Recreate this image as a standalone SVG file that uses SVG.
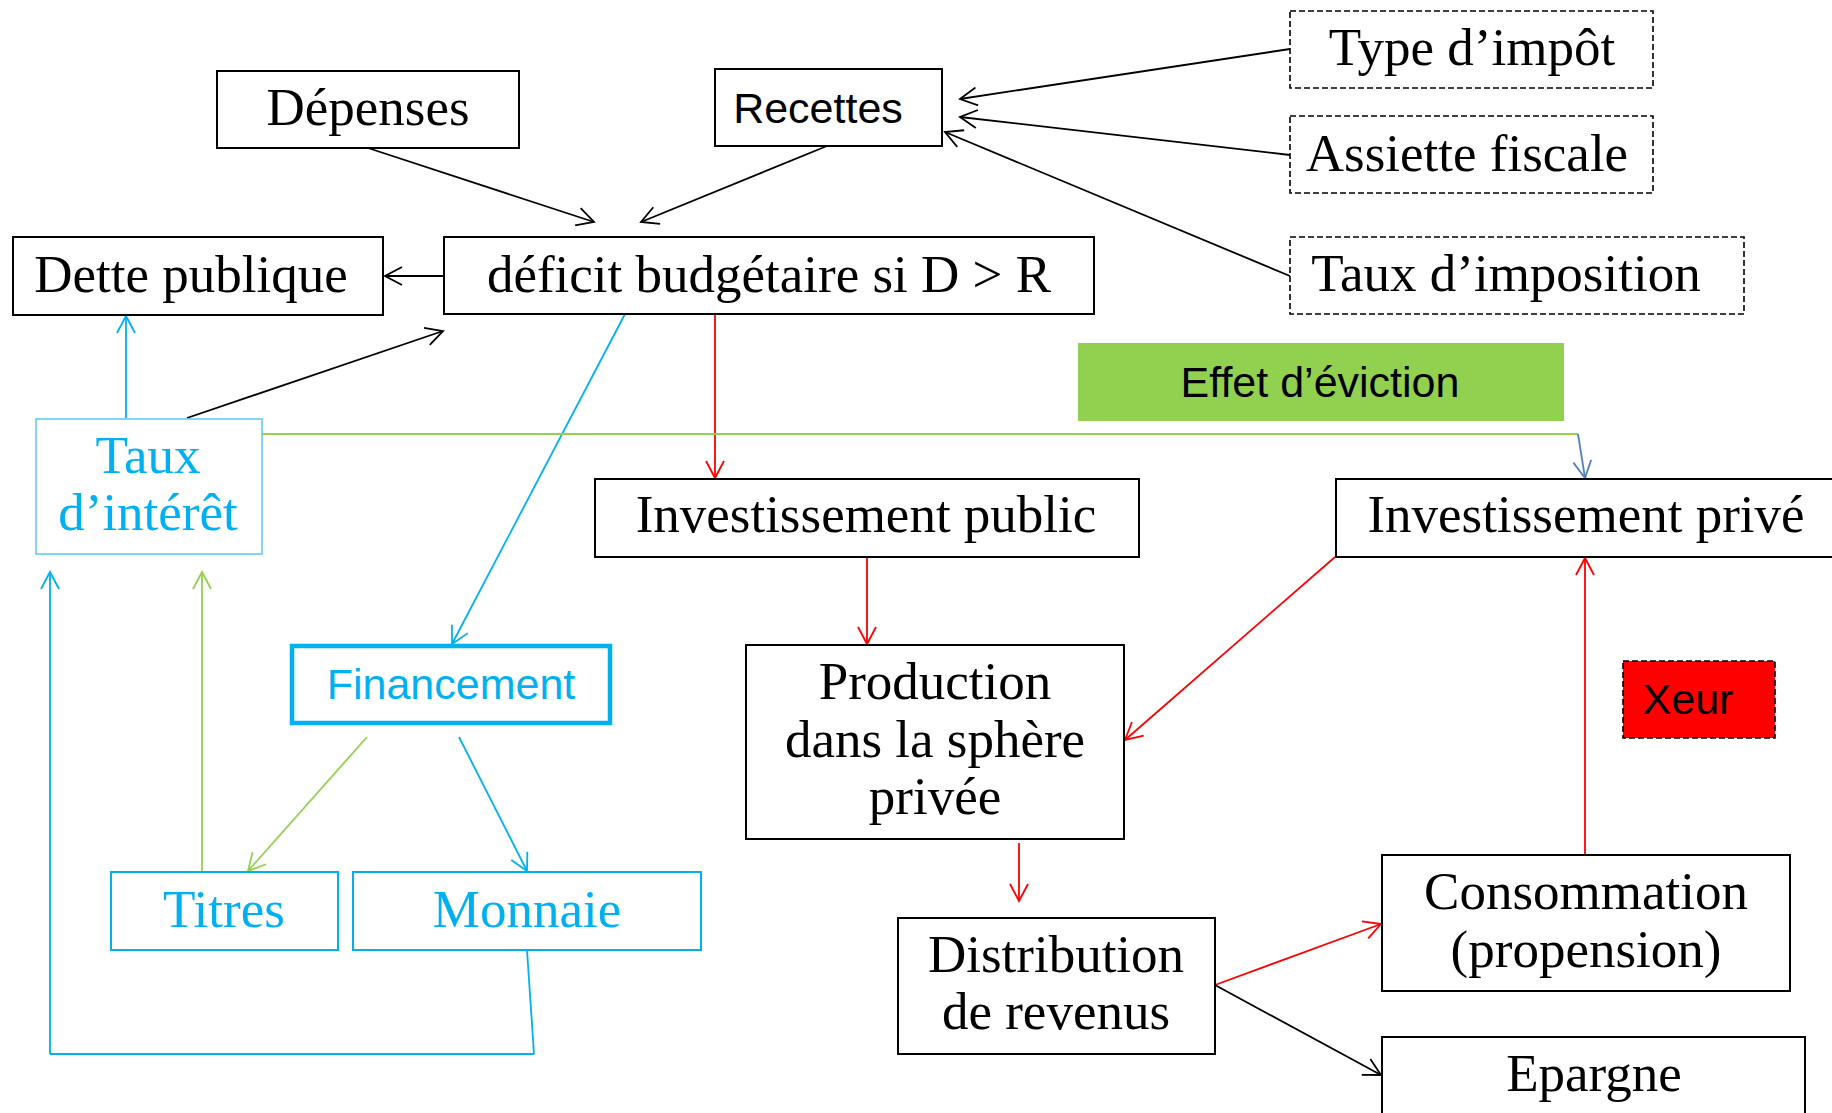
<svg xmlns="http://www.w3.org/2000/svg" width="1832" height="1113" viewBox="0 0 1832 1113">
<style>
.box{fill:#fff;stroke:#000;stroke-width:2}
.dash{fill:#fff;stroke:#000;stroke-width:1.6;stroke-dasharray:6 3}
.serif{font-family:"Liberation Serif","Times New Roman",serif;font-size:53px;fill:#000;text-anchor:middle}
.sans{font-family:"Liberation Sans",Arial,sans-serif;font-size:43px;fill:#000;text-anchor:middle}
.blue{fill:#00B0F0}
.c{fill:none;stroke-width:1.8}
.k{stroke:#000}.r{stroke:#FF0000}.b{stroke:#00B0F0}.g{stroke:#92D050}.s{stroke:#4F81BD}
</style>
<defs>
<marker id="ak" markerUnits="userSpaceOnUse" viewBox="0 0 20 20" refX="18" refY="10" markerWidth="20" markerHeight="20" orient="auto"><path d="M1,1 L18,10 L1,19" fill="none" stroke="#000" stroke-width="1.8"/></marker>
<marker id="ar" markerUnits="userSpaceOnUse" viewBox="0 0 20 20" refX="18" refY="10" markerWidth="20" markerHeight="20" orient="auto"><path d="M1,1 L18,10 L1,19" fill="none" stroke="#FF0000" stroke-width="1.8"/></marker>
<marker id="ab" markerUnits="userSpaceOnUse" viewBox="0 0 20 20" refX="18" refY="10" markerWidth="20" markerHeight="20" orient="auto"><path d="M1,1 L18,10 L1,19" fill="none" stroke="#00B0F0" stroke-width="1.8"/></marker>
<marker id="ag" markerUnits="userSpaceOnUse" viewBox="0 0 20 20" refX="18" refY="10" markerWidth="20" markerHeight="20" orient="auto"><path d="M1,1 L18,10 L1,19" fill="none" stroke="#92D050" stroke-width="1.8"/></marker>
<marker id="as" markerUnits="userSpaceOnUse" viewBox="0 0 20 20" refX="18" refY="10" markerWidth="20" markerHeight="20" orient="auto"><path d="M1,1 L18,10 L1,19" fill="none" stroke="#4F81BD" stroke-width="1.8"/></marker>
</defs>
<rect width="1832" height="1113" fill="#fff"/>

<g id="connectors">
<line class="c k" x1="368" y1="148" x2="594" y2="222" marker-end="url(#ak)"/>
<line class="c k" x1="827" y1="146" x2="641" y2="222" marker-end="url(#ak)"/>
<line class="c k" x1="1290" y1="49" x2="960" y2="99" marker-end="url(#ak)"/>
<line class="c k" x1="1290" y1="155" x2="960" y2="117" marker-end="url(#ak)"/>
<line class="c k" x1="1290" y1="276" x2="945" y2="132" marker-end="url(#ak)"/>
<line class="c k" x1="444" y1="276" x2="385" y2="276" marker-end="url(#ak)"/>
<line class="c k" x1="187" y1="418" x2="443" y2="331" marker-end="url(#ak)"/>
<line class="c b" x1="126" y1="418" x2="126" y2="316" marker-end="url(#ab)"/>
<line class="c b" x1="625" y1="314" x2="452" y2="644" marker-end="url(#ab)"/>
<line class="c r" x1="715" y1="314" x2="715" y2="478" marker-end="url(#ar)"/>
<line class="c r" x1="867" y1="557" x2="867" y2="644" marker-end="url(#ar)"/>
<line class="c g" x1="262" y1="434" x2="1578" y2="434"/>
<line class="c s" x1="1578" y1="434" x2="1585" y2="478" marker-end="url(#as)"/>
<line class="c r" x1="1335" y1="557" x2="1125" y2="740" marker-end="url(#ar)"/>
<line class="c r" x1="1019" y1="843" x2="1019" y2="901" marker-end="url(#ar)"/>
<line class="c r" x1="1215" y1="985" x2="1381" y2="924" stroke-width="2.4" marker-end="url(#ar)"/>
<line class="c k" x1="1215" y1="985" x2="1381" y2="1075" marker-end="url(#ak)"/>
<line class="c r" x1="1585" y1="855" x2="1585" y2="558" marker-end="url(#ar)"/>
<line class="c g" x1="367" y1="737" x2="248" y2="871" marker-end="url(#ag)"/>
<line class="c b" x1="459" y1="737" x2="527" y2="871" marker-end="url(#ab)"/>
<line class="c g" x1="202" y1="872" x2="202" y2="572" marker-end="url(#ag)"/>
<polyline class="c b" points="527,950 534,1054"/>
<line class="c b" x1="534" y1="1054" x2="50" y2="1054" stroke-width="3"/>
<line class="c b" x1="50" y1="1054" x2="50" y2="572" marker-end="url(#ab)"/>
</g>

<g id="depenses"><rect class="box" x="217" y="71" width="302" height="77"/><text class="serif" x="368" y="125">Dépenses</text></g>
<g id="recettes"><rect class="box" x="715" y="69" width="227" height="77"/><text class="sans" x="818" y="123">Recettes</text></g>
<g id="type-impot"><rect class="dash" x="1290" y="11" width="363" height="77"/><text class="serif" x="1472" y="65">Type d’impôt</text></g>
<g id="assiette"><rect class="dash" x="1290" y="116" width="363" height="77"/><text class="serif" x="1467" y="171">Assiette fiscale</text></g>
<g id="taux-imposition"><rect class="dash" x="1290" y="237" width="454" height="77"/><text class="serif" x="1506" y="291">Taux d’imposition</text></g>
<g id="dette"><rect class="box" x="13" y="237" width="370" height="78"/><text class="serif" x="191" y="292">Dette publique</text></g>
<g id="deficit"><rect class="box" x="444" y="237" width="650" height="77"/><text class="serif" x="769" y="292">déficit budgétaire si D &gt; R</text></g>
<g id="eviction"><rect x="1078" y="343" width="486" height="78" fill="#92D050"/><text class="sans" x="1320" y="397">Effet d’éviction</text></g>
<g id="taux-interet"><rect x="36" y="419" width="226" height="135" fill="#fff" stroke="#5CC8F2" stroke-width="1.5"/><text class="serif blue" x="148" y="473">Taux</text><text class="serif blue" x="148" y="530">d’intérêt</text></g>
<g id="inv-public"><rect class="box" x="595" y="479" width="544" height="78"/><text class="serif" x="866" y="532">Investissement public</text></g>
<g id="inv-prive"><rect class="box" x="1336" y="479" width="510" height="78"/><text class="serif" x="1586" y="532">Investissement privé</text></g>
<g id="financement"><rect x="292" y="646" width="318" height="77" fill="#fff" stroke="#00B0F0" stroke-width="4.5"/><text class="sans blue" x="451" y="699">Financement</text></g>
<g id="production"><rect class="box" x="746" y="645" width="378" height="194"/><text class="serif" x="935" y="699">Production</text><text class="serif" x="935" y="757">dans la sphère</text><text class="serif" x="935" y="814">privée</text></g>
<g id="xeur"><rect x="1623" y="661" width="152" height="77" fill="#FF0000" stroke="#000" stroke-width="1.6" stroke-dasharray="6 3"/><text class="sans" x="1688" y="714">Xeur</text></g>
<g id="titres"><rect x="111" y="872" width="227" height="78" fill="#fff" stroke="#00B0F0" stroke-width="2"/><text class="serif blue" x="224" y="927">Titres</text></g>
<g id="monnaie"><rect x="353" y="872" width="348" height="78" fill="#fff" stroke="#00B0F0" stroke-width="2"/><text class="serif blue" x="527" y="927">Monnaie</text></g>
<g id="distribution"><rect class="box" x="898" y="918" width="317" height="136"/><text class="serif" x="1056" y="972">Distribution</text><text class="serif" x="1056" y="1029">de revenus</text></g>
<g id="consommation"><rect class="box" x="1382" y="855" width="408" height="136"/><text class="serif" x="1586" y="909">Consommation</text><text class="serif" x="1586" y="967">(propension)</text></g>
<g id="epargne"><rect class="box" x="1382" y="1037" width="423" height="90"/><text class="serif" x="1594" y="1091">Epargne</text></g>
</svg>
